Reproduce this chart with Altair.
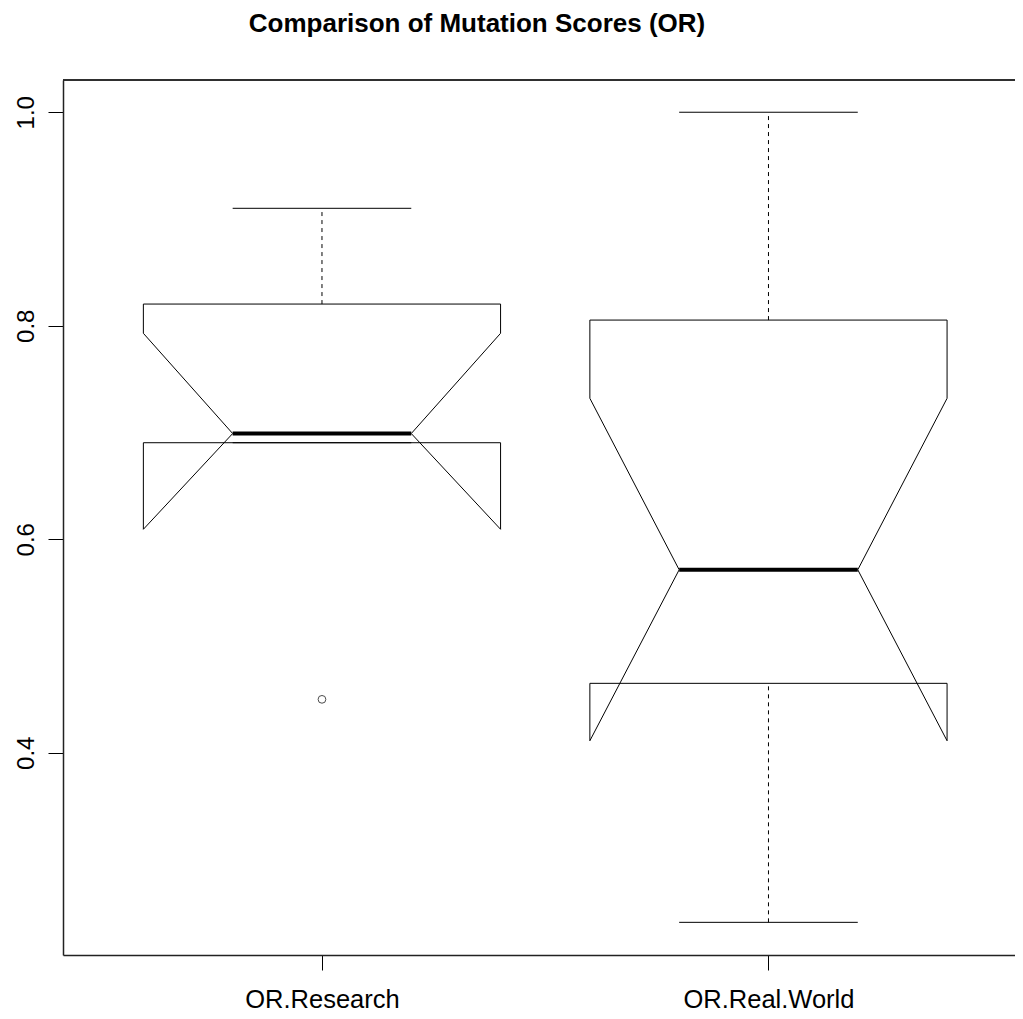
import altair as alt
import pandas as pd

# ---- data ----
groups = ["OR.Research", "OR.Real.World"]
positions = [1, 2]
upper_whisker = [0.910, 1.000]
q3 = [0.8203, 0.8053]
median = [0.699, 0.5714]
q1 = [0.6904, 0.4650]
lower_whisker = [0.6904, 0.2411]
notch_hi = [0.7929, 0.7320]
notch_lo = [0.6093, 0.4112]
outlier_pos = [1]
outlier_val = [0.450]

BOX_HALF = 0.4
NOTCH_FRAC = 0.5
STAPLE_HALF = 0.2
FONT = "Liberation Sans"
W, H = 952, 875

# ---- build tables ----
poly_rows = []
mult = [-1, 1, 1, NOTCH_FRAC, 1, 1, -1, -1, -NOTCH_FRAC, -1, -1]
for g, p, a, b, c, d, e in zip(groups, positions, q1, notch_lo, median, notch_hi, q3):
    ys = [a, a, b, c, d, e, e, d, c, b, a]
    for k, (m, yv) in enumerate(zip(mult, ys)):
        poly_rows.append({"group": g, "k": k, "x": p + BOX_HALF * m, "y": yv})
poly = pd.DataFrame(poly_rows)

stats = pd.DataFrame({
    "group": groups, "pos": positions, "uw": upper_whisker, "q3": q3,
    "med": median, "q1": q1, "lw": lower_whisker,
})
stats["xl"] = stats["pos"] - STAPLE_HALF
stats["xr"] = stats["pos"] + STAPLE_HALF
stats["ml"] = stats["pos"] - BOX_HALF * NOTCH_FRAC
stats["mr"] = stats["pos"] + BOX_HALF * NOTCH_FRAC

outl = pd.DataFrame({"pos": outlier_pos, "val": outlier_val})

label_expr = " : ".join(
    [f"datum.value == {p} ? '{g}'" for p, g in zip(positions[:-1], groups[:-1])]
    + [f"'{groups[-1]}'"]
)

xscale = alt.Scale(domain=[0.42, 0.42 + W / 446.5], nice=False, zero=False)
yscale = alt.Scale(domain=[0.2105, 1.0302], nice=False, zero=False)
xaxis = alt.Axis(values=positions, labelExpr=label_expr, title=None, grid=False,
                 labelFontSize=25.5, labelPadding=17, labelFont=FONT)
yaxis = alt.Axis(values=[0.4, 0.6, 0.8, 1.0], format=".1f", title=None, grid=False,
                 labelAngle=270, labelAlign="center", labelBaseline="alphabetic",
                 labelFontSize=24, labelPadding=15, labelFont=FONT)


def X(field):
    return alt.X(field, type="quantitative", scale=xscale, axis=xaxis)


def Y(field):
    return alt.Y(field, type="quantitative", scale=yscale, axis=yaxis)


boxes = alt.Chart(poly).mark_line(color="black", strokeWidth=1).encode(
    x=X("x"), y=Y("y"), detail="group:N", order="k:Q"
)

upper_wh = alt.Chart(stats).mark_rule(color="black", strokeWidth=1, strokeDash=[4, 4]).encode(
    x=X("pos"), y=Y("q3"), y2="uw"
)
lower_wh = alt.Chart(stats).mark_rule(color="black", strokeWidth=1, strokeDash=[4, 4]).encode(
    x=X("pos"), y=Y("lw"), y2="q1"
)
upper_staple = alt.Chart(stats).mark_rule(color="black", strokeWidth=1).encode(
    x=X("xl"), x2="xr", y=Y("uw")
)
lower_staple = alt.Chart(stats).mark_rule(color="black", strokeWidth=1).encode(
    x=X("xl"), x2="xr", y=Y("lw")
)
med_line = alt.Chart(stats).mark_rule(color="black", strokeWidth=4).encode(
    x=X("ml"), x2="mr", y=Y("med")
)
outliers = alt.Chart(outl).mark_point(shape="circle", size=60, color="black",
                                      filled=False, strokeWidth=1).encode(
    x=X("pos"), y=Y("val")
)
# top edge of the plot frame (the right edge is off-page in the reference)
top_frame = alt.Chart(stats).mark_rule(color="#222222", strokeWidth=1.5).encode(
    x=alt.value(0), x2=alt.value(W), y=alt.value(0)
)

chart = alt.layer(
    boxes, upper_wh, lower_wh, upper_staple, lower_staple, med_line, outliers, top_frame
).properties(
    width=W,
    height=H,
    autosize=alt.AutoSizeParams(type="none"),
    padding={"left": 55, "top": 72, "right": 0, "bottom": 60},
    title=alt.Title(
        "Comparison of Mutation Scores (OR)",
        fontSize=26, font=FONT, fontWeight="bold", color="black",
        anchor="middle", dx=-62, offset=21, baseline="alphabetic",
    ),
).configure(
    background="white"
).configure_view(
    stroke=None
).configure_axis(
    domain=True, domainColor="#222222", domainWidth=1.5, grid=False,
    tickColor="black", tickSize=15, tickWidth=1, labelColor="black"
)

chart.save("out.html", embed_options={"renderer": "svg", "actions": False})
